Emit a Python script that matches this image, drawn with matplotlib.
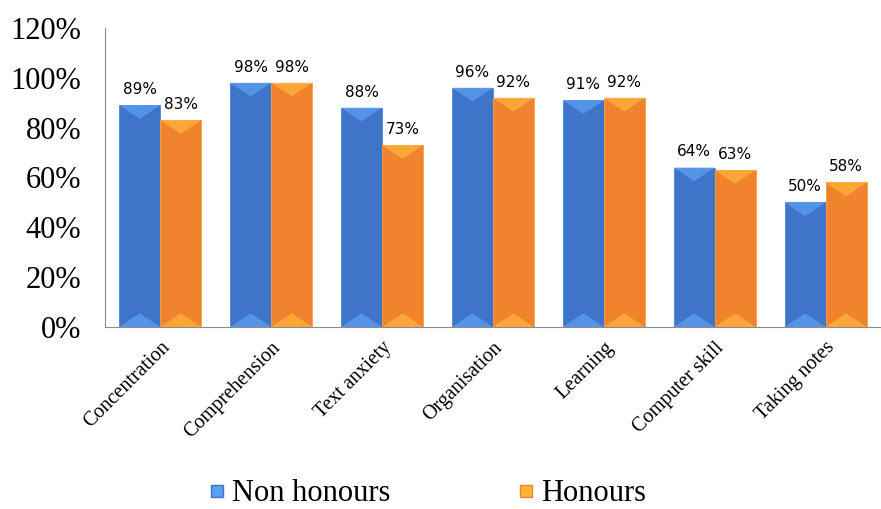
import numpy as np
import matplotlib.pyplot as plt
from matplotlib.patches import Polygon
from matplotlib.lines import Line2D

categories = ['Concentration', 'Comprehension', 'Text anxiety', 'Organisation',
              'Learning', 'Computer skill', 'Taking notes']
non_honours = [89, 98, 88, 96, 91, 64, 50]
honours = [83, 98, 73, 92, 92, 63, 58]
yticks = [0, 20, 40, 60, 80, 100, 120]

blue = '#3f74c9'
blue_lt = '#5a9ff0'
orange = '#f2832e'
orange_lt = '#ffb23a'

fig = plt.figure(figsize=(8.81, 5.09), dpi=100)
ax = fig.add_axes([0.119, 0.3576, 0.881, 0.5874])

x = np.arange(len(categories))
w = 0.37
b1 = ax.bar(x - w/2, non_honours, w, color=blue, edgecolor='#4a86e0', linewidth=0.6)
b2 = ax.bar(x + w/2, honours, w, color=orange, edgecolor='#f7a23a', linewidth=0.6)

# bevel-like light notches at the top and bottom of each bar
for bars, lt in ((b1, blue_lt), (b2, orange_lt)):
    for r in bars:
        x0, wd, h = r.get_x(), r.get_width(), r.get_height()
        d = 5.5
        ax.add_patch(Polygon([(x0, h), (x0 + wd, h), (x0 + wd/2, h - d)],
                             closed=True, color=lt, alpha=0.75, lw=0))
        ax.add_patch(Polygon([(x0, 0), (x0 + wd, 0), (x0 + wd/2, d)],
                             closed=True, color=lt, alpha=0.75, lw=0))

for bars, vals in ((b1, non_honours), (b2, honours)):
    for r, v in zip(bars, vals):
        ax.text(r.get_x() + r.get_width()/2, v + 3.3, f'{v}%',
                ha='center', va='bottom', fontsize=11, family='DejaVu Sans')

ax.set_xlim(-0.5, len(categories) - 0.5)
ax.set_ylim(0, 120)
ax.set_yticks(yticks)
ax.set_yticklabels([f'{t}%' for t in yticks], family='Liberation Serif', fontsize=22)
ax.set_xticks(x)
ax.set_xticklabels(categories, rotation=45, ha='right', rotation_mode='anchor',
                   family='Liberation Serif', fontsize=14.5)
ax.tick_params(axis='y', length=0, pad=17)
ax.tick_params(axis='x', length=0, pad=8)
for s in ('top', 'right'):
    ax.spines[s].set_visible(False)
for s in ('left', 'bottom'):
    ax.spines[s].set_color('#8c8c8c')

handles = [Line2D([], [], marker='s', ls='', color=blue_lt, markeredgecolor=blue, markersize=9),
           Line2D([], [], marker='s', ls='', color=orange_lt, markeredgecolor=orange, markersize=9)]
fig.legend(handles, ['Non honours', 'Honours'], loc='center', bbox_to_anchor=(0.482, 0.03),
           ncol=2, frameon=False, columnspacing=4.0, handletextpad=0.05, handlelength=0.9,
           borderaxespad=0, borderpad=0, prop={'family': 'Liberation Serif', 'size': 22})

fig.savefig('out.png', dpi=100)
